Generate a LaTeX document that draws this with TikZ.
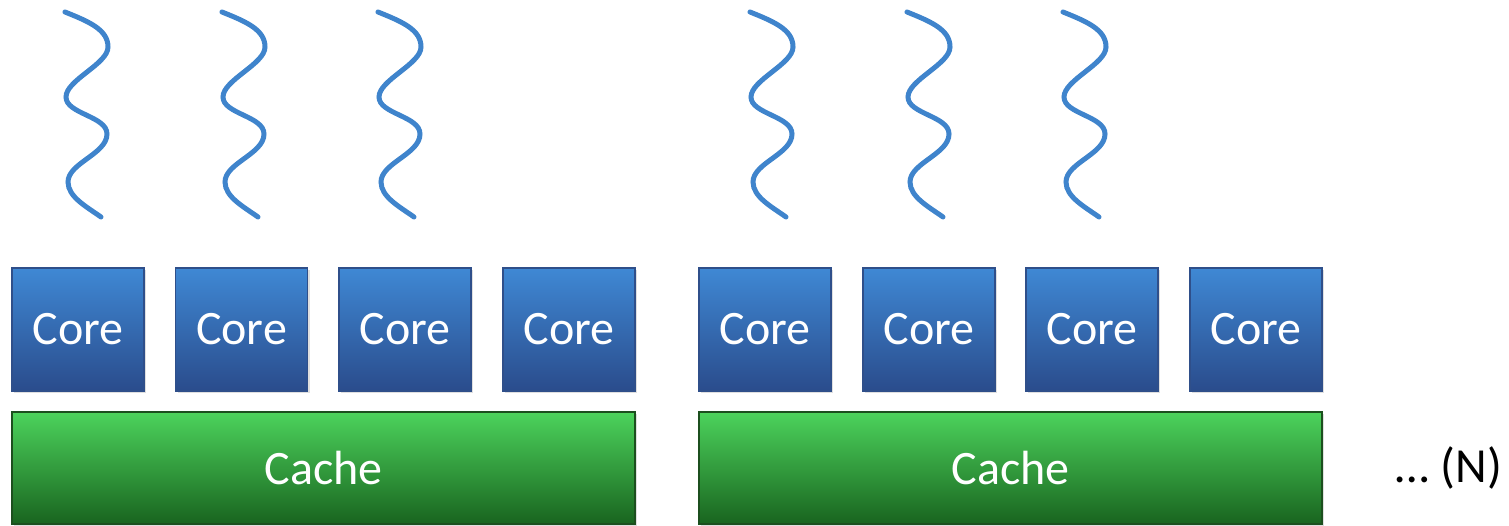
\documentclass[tikz,border=0pt]{standalone}
\usepackage{fontspec}
\setmainfont{Carlito}
\usetikzlibrary{shadows}
\definecolor{coretop}{HTML}{3F88D4}
\definecolor{corebot}{HTML}{2A4C8C}
\definecolor{coreline}{HTML}{2F4F8A}
\definecolor{cachetop}{HTML}{4CD35C}
\definecolor{cachebot}{HTML}{19641F}
\definecolor{cacheline}{HTML}{1C4F1E}
\definecolor{wave}{HTML}{3F84CC}
\tikzset{
  corebox/.style={draw=coreline, line width=1.2pt, top color=coretop, bottom color=corebot,
    minimum width=132pt, minimum height=123pt, inner sep=0pt, text=white,
    font=\fontsize{48}{52}\selectfont,
    drop shadow={shadow xshift=2pt, shadow yshift=-2pt, opacity=0.25}},
  cachebox/.style={draw=cacheline, line width=1.2pt, top color=cachetop, bottom color=cachebot,
    minimum width=623pt, minimum height=112pt, inner sep=0pt, text=white,
    font=\fontsize{48}{52}\selectfont,
    drop shadow={shadow xshift=2pt, shadow yshift=-2pt, opacity=0.25}},
  wavy/.style={draw=wave, line width=5pt, line cap=round},
}
\begin{document}
\begin{tikzpicture}[x=1pt, y=-1pt]
\useasboundingbox (0,0) rectangle (1509,525);
% threads
\foreach \wx in {65,222,378,750,907,1063} {
  \draw[wavy] (\wx,12) .. controls (\wx+25,22) and (\wx+43,30) .. (\wx+43,47)
    .. controls (\wx+43,64) and (\wx+1,80) .. (\wx+1,97)
    .. controls (\wx+1,114) and (\wx+42,116) .. (\wx+42,134)
    .. controls (\wx+42,154) and (\wx+3,163) .. (\wx+3,182)
    .. controls (\wx+3,197) and (\wx+22,207) .. (\wx+36,217);
}
% cores
\foreach \cx [count=\i] in {78,241.5,405,569,765,929,1092,1256} {
  \node[corebox] (core\i) at (\cx,329.5) {Core};
}
% caches
\node[cachebox] (cacheA) at (323.5,468) {Cache};
\node[cachebox] (cacheB) at (1010.5,468) {Cache};
\node[font=\fontsize{49}{52}\selectfont, anchor=center] (more) at (1449,468) {… (N)};
\end{tikzpicture}
\end{document}
